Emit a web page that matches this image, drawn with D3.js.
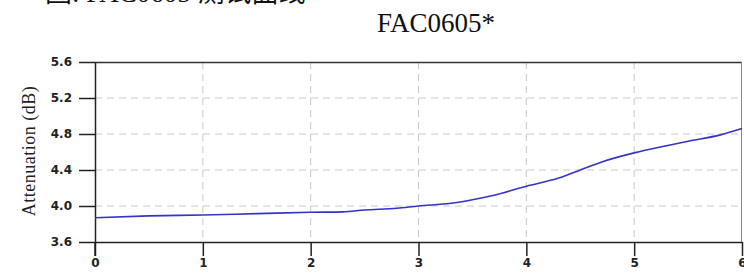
<!DOCTYPE html>
<html>
<head>
<meta charset="utf-8">
<script src="https://cdn.jsdelivr.net/npm/d3@7"></script>
<style>
  body { margin: 0; background: #fff; }
  svg { display: block; }
</style>
</head>
<body>
<div id="chart"></div>
<script>
const headerText = "图: FAC0605 测试曲线";
const chartTitle = "FAC0605*";
const yLabel = "Attenuation (dB)";

const frequency = [0, 0.5, 1, 1.5, 2, 2.3, 2.5, 2.8, 3, 3.3, 3.5, 3.7, 4, 4.3, 4.5, 4.7, 5, 5.3, 5.5, 5.8, 6];
const attenuation = [3.87, 3.89, 3.90, 3.915, 3.93, 3.935, 3.955, 3.975, 4.0, 4.03, 4.07, 4.12, 4.22, 4.31, 4.40, 4.49, 4.59, 4.67, 4.72, 4.79, 4.86];

const xTicks = [0, 1, 2, 3, 4, 5, 6];
const yTicks = [3.6, 4.0, 4.4, 4.8, 5.2, 5.6];

const margin = { top: 62, right: 2, bottom: 33, left: 95 };
const width = 744 - margin.left - margin.right;
const height = 275 - margin.top - margin.bottom;

const data = frequency.map((f, i) => ({ f: f, a: attenuation[i] }));

const svg = d3.select("#chart").append("svg")
    .attr("width", 744)
    .attr("height", 275);

// clipped header from the page above
svg.append("text")
    .attr("x", 45)
    .attr("y", 2)
    .style("font-family", "'Liberation Serif', 'Noto Sans CJK SC', serif")
    .style("font-size", "27px")
    .attr("fill", "#111")
    .text(headerText);

svg.append("text")
    .attr("x", 377)
    .attr("y", 32)
    .style("font-family", "'Liberation Serif', serif")
    .style("font-size", "27px")
    .attr("fill", "#111")
    .text(chartTitle);

const g = svg.append("g")
    .attr("transform", `translate(${margin.left},${margin.top})`);

const x = d3.scaleLinear().domain([0, 6]).range([0, width]);
const y = d3.scaleLinear().domain([3.6, 5.6]).range([height, 0]);

// dashed grid
g.selectAll(".hgrid")
    .data(yTicks.slice(1, -1))
    .enter().append("line")
    .attr("x1", 0).attr("x2", width)
    .attr("y1", d => y(d)).attr("y2", d => y(d))
    .attr("stroke", "#c8c8c8")
    .attr("stroke-dasharray", "7,5");

g.selectAll(".vgrid")
    .data(xTicks.slice(1, -1))
    .enter().append("line")
    .attr("y1", 0).attr("y2", height)
    .attr("x1", d => x(d)).attr("x2", d => x(d))
    .attr("stroke", "#c8c8c8")
    .attr("stroke-dasharray", "7,5");

// frame top and right
g.append("line")
    .attr("x1", 0).attr("x2", width)
    .attr("y1", 0.5).attr("y2", 0.5)
    .attr("stroke", "#333").attr("stroke-width", 1.5);
g.append("line")
    .attr("x1", width - 0.5).attr("x2", width - 0.5)
    .attr("y1", 0).attr("y2", height)
    .attr("stroke", "#888");

const tickFont = "'DejaVu Sans', sans-serif";

const xAxis = g.append("g")
    .attr("transform", `translate(0,${height})`)
    .call(d3.axisBottom(x).tickValues(xTicks).tickFormat(d3.format("d")).tickSize(14).tickSizeOuter(0));

const yAxis = g.append("g")
    .call(d3.axisLeft(y).tickValues(yTicks).tickFormat(d3.format(".1f")).tickSize(16).tickSizeOuter(0));

[xAxis, yAxis].forEach(ax => {
    ax.select(".domain").attr("stroke", "#222").attr("stroke-width", 1.5);
    ax.selectAll(".tick line").attr("stroke", "#222").attr("stroke-width", 1.5);
    ax.selectAll("text")
        .style("font-family", tickFont)
        .style("font-weight", "bold")
        .style("font-size", "12px")
        .attr("fill", "#222");
});
yAxis.selectAll("text").attr("x", -23);
xAxis.selectAll("text").attr("y", 16);

// extend vertical axis below the x axis
g.append("line")
    .attr("x1", 0).attr("x2", 0)
    .attr("y1", height).attr("y2", height + 14)
    .attr("stroke", "#222").attr("stroke-width", 1.5);

const line = d3.line()
    .x(d => x(d.f))
    .y(d => y(d.a))
    .curve(d3.curveMonotoneX);

g.append("path")
    .datum(data)
    .attr("fill", "none")
    .attr("stroke", "#3434c8")
    .attr("stroke-width", 1.6)
    .attr("d", line);

svg.append("text")
    .attr("transform", "translate(35,151) rotate(-90)")
    .attr("text-anchor", "middle")
    .style("font-family", "'Liberation Serif', serif")
    .style("font-size", "18px")
    .style("letter-spacing", "0.5px")
    .attr("fill", "#222")
    .text(yLabel);
</script>
</body>
</html>
